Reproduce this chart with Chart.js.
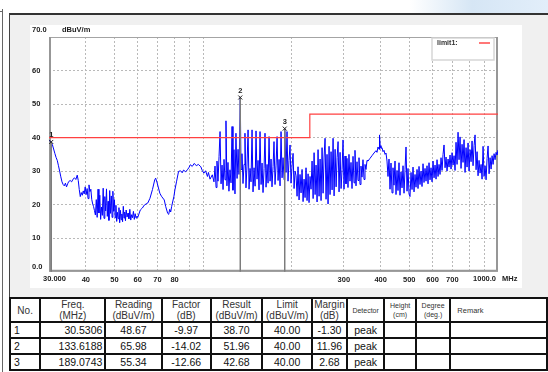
<!DOCTYPE html>
<html>
<head>
<meta charset="utf-8">
<script src="https://cdn.jsdelivr.net/npm/chart.js@4/dist/chart.umd.min.js"></script>
<style>
  html, body { margin: 0; padding: 0; width: 548px; height: 372px; overflow: hidden; background: #fff; position: relative; font-family: "Liberation Sans", Arial, sans-serif; }
  #glow { position: absolute; left: 410px; top: 0; width: 138px; height: 13px; background: linear-gradient(90deg, rgba(225,237,248,0), rgba(214,230,245,1) 45%, rgba(226,238,250,1)); }
  #edge { position: absolute; left: 2px; top: 9px; width: 1px; height: 363px; background: #666; }
  #edgeTick { position: absolute; left: 0; top: 11px; width: 3px; height: 1px; background: #666; }
  #panel { position: absolute; left: 9px; top: 13px; width: 539px; height: 284px; background: #f0f0f0; border-top: 2px solid #333; border-left: 1px solid #444; box-sizing: border-box; }
  #plot { position: absolute; left: 30px; top: 25px; width: 492px; height: 263px; background: #fff; }
  #plot canvas { display: block; }
  #tbl { position: absolute; left: 9px; top: 297px; border-collapse: separate; border-spacing: 0; table-layout: fixed; border: 1px solid #111; }
  #tbl th, #tbl td { border: 1px solid #111; padding: 0; font-weight: normal; white-space: nowrap; overflow: hidden; }
  #tbl th { height: 22px; font-size: 10px; line-height: 11px; color: #333; text-align: center; }
  #tbl th.small { font-size: 7px; line-height: 9px; }
  #tbl th.rem { font-size: 7.5px; text-align: left; padding-left: 6px; }
  #tbl td { height: 14px; font-size: 10.5px; line-height: 14px; color: #111; text-align: center; }
  #tbl td.no { text-align: left; padding-left: 3px; }
  #tbl td.fq { text-align: right; padding-right: 2px; }
</style>
</head>
<body>
<div id="glow"></div>
<div id="edge"></div>
<div id="edgeTick"></div>
<div id="panel"></div>
<div id="plot"><canvas id="c" width="492" height="263" style="width:492px;height:263px"></canvas></div>
<table id="tbl">
  <colgroup>
    <col style="width:31px"><col style="width:66px"><col style="width:57px"><col style="width:50px"><col style="width:52px"><col style="width:50px"><col style="width:35px"><col style="width:38px"><col style="width:32px"><col style="width:35px"><col style="width:100px">
  </colgroup>
  <thead>
    <tr>
      <th>No.</th><th>Freq.<br>(MHz)</th><th>Reading<br>(dBuV/m)</th><th>Factor<br>(dB)</th><th>Result<br>(dBuV/m)</th><th>Limit<br>(dBuV/m)</th><th>Margin<br>(dB)</th><th class="small">Detector</th><th class="small">Height<br>(cm)</th><th class="small">Degree<br>(deg.)</th><th class="rem">Remark</th>
    </tr>
  </thead>
  <tbody id="rows"></tbody>
</table>
<script>
// Marker readings (one entry per marker)
const markerNo = [1, 2, 3];
const markerFreq = [30.5306, 133.6188, 189.0743];
const markerReading = [48.67, 65.98, 55.34];
const markerFactor = [-9.97, -14.02, -12.66];
const markerResult = [38.70, 51.96, 42.68];
const markerLimit = [40.00, 40.00, 40.00];
const markerMargin = [-1.30, 11.96, 2.68];
const markerDetector = ['peak', 'peak', 'peak'];

// Limit line (limit1)
const limitFreq = [30, 230, 230, 1000];
const limitLevel = [40, 40, 47, 47];

// Axis ticks
const xGridFreq = [30, 40, 50, 60, 70, 80, 90, 100, 200, 300, 400, 500, 600, 700, 800, 900, 1000];
const xLabelFreq = [40, 50, 60, 70, 80, 300, 400, 500, 600, 700];
const yTickLevel = [0, 10, 20, 30, 40, 50, 60, 70];

// Peak-detector sweep, frequency in MHz
const traceFreq = [
  30.0,30.3,30.53,30.8,31.1,31.4,31.7,32.0,32.3,32.6,32.9,33.2,33.5,33.8,34.1,34.4,34.7,35.0,35.4,35.8,36.2,36.6,37.0,37.4,37.7,38.0,38.3,38.6,38.9,39.2,39.5,39.8,40.1,40.4,40.7,41.0,41.3,41.6,41.9,42.2,42.5,42.8,43.1,
  43.4,43.7,44.0,44.3,44.6,44.9,45.2,45.5,45.8,46.1,46.4,46.7,47.0,47.3,47.6,47.9,48.2,48.5,48.8,49.1,49.4,49.7,50.0,50.3,50.6,50.9,51.2,51.5,51.8,52.1,52.4,52.7,53.0,53.3,53.6,53.9,54.2,54.5,54.8,55.2,55.6,56.0,56.4,56.8,57.2,57.6,58.0,58.4,58.8,59.2,59.6,60.0,
  61.2,62.2,63.2,64.9,66.0,67.3,68.5,69.0,69.8,71.3,72.2,73.8,74.6,75.8,76.4,77.0,77.6,78.2,79.6,80.2,81.2,82.5,83.8,84.9,85.8,87.2,88.4,89.4,90.5,91.8,93.3,94.8,96.3,98.2,99.3,100.6,101.9,103.4,104.2,105.5,107.4,
  108.8,109.7,110.6,111.4,112.3,113.2,114.1,115.0,115.9,116.8,117.7,118.6,119.5,120.4,121.4,122.3,123.3,124.3,125.3,126.2,127.2,128.2,129.2,130.3,131.3,132.3,133.6188,
  134.4,135.4,136.5,137.6,138.6,139.7,140.8,142.0,143.1,144.2,145.3,146.5,147.6,148.8,150.0,151.1,152.3,153.5,154.7,155.9,157.2,158.4,159.6,160.9,162.1,163.4,164.7,166.0,167.3,168.6,169.9,171.2,172.6,173.9,175.3,176.7,178.1,179.5,180.9,182.3,183.7,185.2,186.6,188.1,189.0743,
  191.0,192.5,194.0,195.5,197.1,198.6,200.2,201.8,203.4,205.0,
  206.6,208.2,209.8,211.5,213.1,214.8,216.5,218.2,219.9,221.6,223.3,225.1,226.9,228.6,230.4,
  232.2,234.1,236.0,237.8,239.7,241.5,243.4,245.3,247.2,249.2,251.1,253.1,255.1,257.1,259.1,261.1,263.1,265.2,267.3,269.4,271.5,273.7,275.8,278.0,280.2,282.4,284.6,286.8,289.0,291.3,293.6,295.9,298.1,300.4,302.8,
  305.1,307.5,309.9,312.3,314.8,317.3,319.8,322.3,324.8,327.3,329.9,332.5,335.1,337.7,340.4,343.0,345.7,348.4,351.2,353.9,356.7,359.5,
  362.3,368.0,373.8,379.7,385.7,388.7,391.8,394.9,396.4,398.5,401.0,404.2,407.4,410.6,413.8,417.0,420.3,423.6,
  426.9,430.3,433.6,437.0,440.4,443.9,447.4,450.9,454.4,458.0,461.6,465.2,468.9,472.6,476.3,480.0,483.8,487.6,491.4,495.2,499.1,503.0,507.0,511.0,515.0,519.0,523.1,527.2,
  531.3,535.5,539.7,543.9,548.2,552.5,556.8,561.2,565.6,570.0,574.5,579.0,583.5,588.1,592.7,597.4,602.1,606.8,611.6,616.4,621.2,626.1,631.0,635.9,640.9,646.0,651.0,656.1,661.3,666.5,671.7,677.0,682.3,687.6,693.0,698.5,704.0,709.5,
  715.0,720.6,726.3,732.0,737.7,743.5,749.3,755.2,761.1,767.1,773.1,779.2,785.3,791.5,797.7,804.0,810.3,816.6,823.0,829.5,836.0,842.6,849.2,
  855.8,862.5,869.3,876.1,883.0,889.9,896.9,903.9,911.0,918.2,925.4,932.7,940.0,947.4,954.8,962.3,969.8,977.4,985.1,992.8,1000
];

// Peak-detector sweep, level in dBuV/m
const traceLevel = [
  39.2,38.9,38.7,37.9,36.6,35.3,34.1,33.2,31.6,30.0,28.3,26.8,26.0,25.6,26.4,25.3,26.2,26.9,27.2,26.8,27.6,28.0,27.5,28.8,27.2,24.5,22.4,23.6,22.8,24.1,23.2,25.3,23.0,24.8,21.8,25.9,23.9,24.6,21.5,20.2,19.4,18.2,16.9,
  21.5,16.2,24.6,17.5,22.8,15.6,19.3,16.8,24.9,15.9,22.4,18.1,24.7,16.5,21.0,15.3,24.2,17.4,22.6,16.2,24.0,18.0,21.5,16.1,19.8,15.0,17.7,15.8,19.1,14.6,18.3,15.5,17.2,14.9,19.5,16.0,17.8,15.2,18.4,16.3,17.5,15.8,18.6,15.4,17.0,16.1,18.0,15.6,17.3,16.0,16.6,16.2,
  18.4,19.0,19.9,20.5,21.9,24.5,27.4,27.9,26.5,23.4,22.5,21.4,19.5,17.4,17.1,18.6,17.8,19.5,22.5,24.4,26.8,29.9,30.1,29.5,30.3,29.8,30.4,31.0,31.9,31.4,32.3,31.6,32.0,31.3,30.2,29.4,30.1,28.4,29.6,27.6,28.9,
  26.8,31.5,25.1,33.0,27.0,34.3,41.8,26.2,31.8,24.5,33.5,27.4,45.0,25.6,32.6,24.0,30.4,26.5,43.3,24.3,36.4,23.2,41.3,27.8,36.5,29.0,51.96,
  30.5,35.2,26.3,32.0,41.3,25.0,31.5,42.3,24.6,30.8,26.8,42.3,23.8,31.0,25.5,42.0,27.6,33.2,24.4,41.8,26.0,32.4,23.6,30.8,41.3,25.2,32.0,26.4,40.3,27.0,33.6,25.3,31.4,38.8,26.0,31.8,40.3,27.2,33.5,25.6,41.8,28.0,34.0,27.4,42.68,
  29.6,41.8,27.0,33.2,37.8,26.4,31.5,35.3,24.8,30.0,
  28.6,22.5,31.3,21.4,29.0,23.5,30.5,20.9,27.6,22.1,31.0,21.2,29.2,20.6,28.4,
  24.6,33.0,21.8,35.5,23.0,31.8,20.8,36.4,22.5,33.6,21.2,37.0,23.4,34.2,39.8,21.6,35.0,20.2,37.4,23.0,35.8,24.4,39.8,22.6,36.5,25.3,34.0,38.8,23.8,35.6,24.8,30.5,39.3,24.6,34.5,
  26.2,33.8,25.1,35.0,27.0,32.6,24.8,34.4,26.5,36.2,25.6,32.8,27.2,34.0,26.0,31.5,28.2,33.4,27.5,32.0,30.5,33.2,
  33.0,33.8,34.6,35.4,36.1,35.6,37.2,36.5,40.8,37.6,36.8,37.0,35.8,36.2,35.0,35.4,33.0,28.4,
  33.6,24.6,32.4,23.5,31.0,25.8,33.0,23.0,30.2,24.2,32.5,22.8,29.8,25.0,31.6,23.4,30.4,37.2,24.0,30.8,23.2,22.4,29.6,24.5,31.2,23.8,29.0,25.2,
  30.5,24.8,31.4,26.0,30.0,25.4,32.2,26.6,30.8,27.0,31.6,26.2,32.5,27.4,31.0,26.8,33.0,28.0,31.8,27.6,33.4,28.4,32.0,29.0,34.0,30.2,35.0,37.8,31.0,34.2,30.0,33.6,31.2,34.8,30.6,35.5,31.8,34.6,
  30.2,38.6,32.0,41.6,33.4,40.2,30.8,38.0,32.6,39.4,29.6,37.0,31.2,38.4,30.0,36.4,32.8,39.0,31.6,37.6,40.8,30.4,35.8,
  28.6,33.2,29.4,32.0,27.6,37.4,28.4,31.6,27.4,33.8,37.5,29.2,34.0,30.6,34.6,32.0,35.2,33.4,35.6,34.8,36.3
];

// Result table
const rowsEl = document.getElementById('rows');
markerNo.forEach((n, i) => {
  const tr = document.createElement('tr');
  const cells = [
    ['no', String(n)],
    ['fq', markerFreq[i].toFixed(4)],
    ['', markerReading[i].toFixed(2)],
    ['', markerFactor[i].toFixed(2)],
    ['', markerResult[i].toFixed(2)],
    ['', markerLimit[i].toFixed(2)],
    ['', markerMargin[i].toFixed(2)],
    ['', markerDetector[i]],
    ['', ''], ['', ''], ['', '']
  ];
  cells.forEach(([cls, txt]) => {
    const td = document.createElement('td');
    if (cls) td.className = cls;
    td.textContent = txt;
    tr.appendChild(td);
  });
  rowsEl.appendChild(tr);
});

const FONT_FAMILY = '"Liberation Sans", Arial, sans-serif';
const tickFont = { family: FONT_FAMILY, size: 7.5, weight: 'bold' };
const TEXT = '#222';

// Frame around the plotting area, under the trace
const frame = {
  id: 'frame',
  beforeDatasetsDraw(chart) {
    const { ctx, chartArea: ca } = chart;
    ctx.save();
    ctx.strokeStyle = '#a4a4a4';
    ctx.lineWidth = 1;
    ctx.strokeRect(ca.left + 0.5, ca.top + 0.5, ca.width - 1, ca.height - 1);
    ctx.strokeStyle = '#979797';
    ctx.lineWidth = 2;
    ctx.beginPath();
    ctx.moveTo(ca.left + 1, ca.top);
    ctx.lineTo(ca.left + 1, ca.bottom - 1);
    ctx.lineTo(ca.right, ca.bottom - 1);
    ctx.moveTo(ca.right - 1, ca.top);
    ctx.lineTo(ca.right - 1, ca.bottom);
    ctx.stroke();
    ctx.restore();
  }
};

// Marker lines, marker labels, legend box and unit labels
const annotate = {
  id: 'annotate',
  afterDatasetsDraw(chart) {
    const { ctx, chartArea: ca, scales: { x, y } } = chart;
    ctx.save();
    markerFreq.forEach((f, i) => {
      const px = x.getPixelForValue(f);
      const py = y.getPixelForValue(markerResult[i]);
      ctx.strokeStyle = '#7c7c7c';
      ctx.lineWidth = 1.5;
      ctx.beginPath();
      ctx.moveTo(px, py);
      ctx.lineTo(px, ca.bottom);
      ctx.stroke();
      ctx.strokeStyle = '#222';
      ctx.lineWidth = 1;
      ctx.beginPath();
      ctx.moveTo(px - 2, py - 2); ctx.lineTo(px + 2, py + 2);
      ctx.moveTo(px + 2, py - 2); ctx.lineTo(px - 2, py + 2);
      ctx.stroke();
      ctx.fillStyle = '#222';
      ctx.font = 'bold 7.5px ' + FONT_FAMILY;
      ctx.textAlign = 'center';
      ctx.textBaseline = 'middle';
      ctx.fillText(String(markerNo[i]), px, py - 7);
    });

    // legend
    const lx = ca.right - 66, ly = ca.top + 1;
    ctx.fillStyle = '#fff';
    ctx.fillRect(lx, ly, 62, 22);
    ctx.strokeStyle = '#d6d6d6';
    ctx.lineWidth = 1.5;
    ctx.strokeRect(lx, ly, 62, 22);
    ctx.fillStyle = '#333';
    ctx.font = 'bold 7px ' + FONT_FAMILY;
    ctx.textAlign = 'left';
    ctx.textBaseline = 'middle';
    ctx.fillText('limit1:', lx + 5, ly + 5);
    ctx.strokeStyle = '#ff4a4a';
    ctx.lineWidth = 1.5;
    ctx.beginPath();
    ctx.moveTo(lx + 47, ly + 5);
    ctx.lineTo(lx + 58, ly + 5);
    ctx.stroke();

    // axis end labels and units
    ctx.fillStyle = TEXT;
    ctx.font = 'bold 7.5px ' + FONT_FAMILY;
    ctx.textBaseline = 'middle';
    ctx.textAlign = 'left';
    const yTop = y.getPixelForValue(70);
    const yZero = y.getPixelForValue(0);
    ctx.fillText('70.0', 2, yTop - 7);
    ctx.fillText('dBuV/m', 32, yTop - 7);
    ctx.fillText('0.0', 2, yZero - 5);
    const labelY = ca.bottom + 7.5;
    ctx.fillText('30.000', x.getPixelForValue(30) - 6, labelY);
    ctx.textAlign = 'right';
    ctx.fillText('1000.0', x.getPixelForValue(1000) - 2, labelY);
    ctx.textAlign = 'left';
    ctx.fillText('MHz', x.getPixelForValue(1000) + 4, labelY);
    ctx.restore();
  }
};

const gridColor = '#b9b9b9';

new Chart(document.getElementById('c'), {
  type: 'line',
  data: {
    datasets: [
      {
        label: 'limit1',
        data: limitFreq.map((f, i) => ({ x: f, y: limitLevel[i] })),
        borderColor: '#ff4040',
        borderWidth: 1.2,
        pointRadius: 0,
        order: 0
      },
      {
        label: 'Peak',
        data: traceFreq.map((f, i) => ({ x: f, y: traceLevel[i] })),
        borderColor: '#0000ff',
        borderWidth: 1,
        pointRadius: 0,
        tension: 0,
        order: 1
      }
    ]
  },
  options: {
    responsive: false,
    animation: false,
    devicePixelRatio: 1,
    layout: { padding: { left: 2, top: 12, right: 24, bottom: 0 } },
    plugins: { legend: { display: false }, tooltip: { enabled: false } },
    scales: {
      x: {
        type: 'logarithmic',
        min: 30,
        max: 1000,
        afterBuildTicks: (axis) => { axis.ticks = xGridFreq.map(v => ({ value: v })); },
        afterFit: (axis) => { axis.height = 16.3; },
        ticks: {
          autoSkip: false,
          maxRotation: 0,
          padding: 4,
          font: tickFont,
          color: TEXT,
          callback: (v) => xLabelFreq.includes(v) ? String(v) : ''
        },
        grid: {
          drawTicks: false,
          lineWidth: 1,
          color: (c) => (c.tick && (c.tick.value === 30 || c.tick.value === 1000)) ? 'rgba(0,0,0,0)' : gridColor
        },
        border: { display: false, dash: [2, 2] }
      },
      y: {
        min: 0,
        max: 70,
        afterBuildTicks: (axis) => { axis.ticks = yTickLevel.map(v => ({ value: v })); },
        afterFit: (axis) => { axis.width = 17; },
        ticks: {
          crossAlign: 'far',
          font: tickFont,
          color: TEXT,
          callback: (v) => (v === 0 || v === 70) ? '' : String(v)
        },
        grid: {
          drawTicks: false,
          lineWidth: 1,
          color: (c) => (c.tick && (c.tick.value === 0 || c.tick.value === 70)) ? 'rgba(0,0,0,0)' : gridColor
        },
        border: { display: false, dash: [2, 2] }
      }
    }
  },
  plugins: [frame, annotate]
});
</script>
</body>
</html>
